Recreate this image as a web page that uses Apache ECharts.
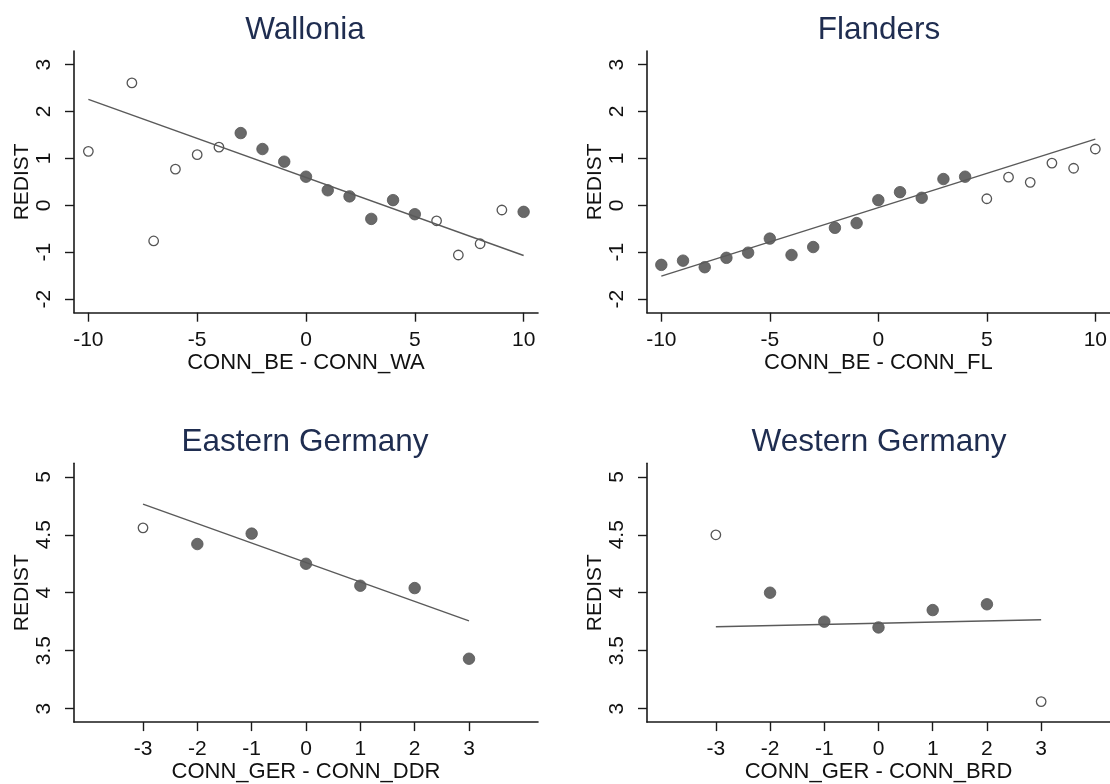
<!DOCTYPE html>
<html>
<head>
<meta charset="utf-8">
<script src="https://cdn.jsdelivr.net/npm/echarts@6/dist/echarts.min.js"></script>
<style>
html,body{margin:0;padding:0;background:#fff;}
#chart{width:1110px;height:784px;}
</style>
</head>
<body>
<div id="chart"></div>
<script>
// ---- Data ----
const titles = ['Wallonia', 'Flanders', 'Eastern Germany', 'Western Germany'];
const xNames = ['CONN_BE - CONN_WA', 'CONN_BE - CONN_FL', 'CONN_GER - CONN_DDR', 'CONN_GER - CONN_BRD'];
const yName = 'REDIST';

const waX = [-10, -8, -7, -6, -5, -4, -3, -2, -1, 0, 1, 2, 3, 4, 5, 6, 7, 8, 9, 10];
const waY = [1.15, 2.61, -0.76, 0.77, 1.08, 1.24, 1.54, 1.20, 0.93, 0.61, 0.32, 0.19, -0.29, 0.11, -0.19, -0.33, -1.06, -0.82, -0.10, -0.14];
const waHollow = [1, 1, 1, 1, 1, 1, 0, 0, 0, 0, 0, 0, 0, 0, 0, 1, 1, 1, 1, 0];
const waFit = [[-10, 2.26], [10, -1.07]];

const flX = [-10, -9, -8, -7, -6, -5, -4, -3, -2, -1, 0, 1, 2, 3, 4, 5, 6, 7, 8, 9, 10];
const flY = [-1.27, -1.18, -1.32, -1.12, -1.01, -0.71, -1.06, -0.89, -0.48, -0.38, 0.11, 0.28, 0.16, 0.56, 0.61, 0.14, 0.60, 0.49, 0.90, 0.79, 1.20];
const flHollow = [0, 0, 0, 0, 0, 0, 0, 0, 0, 0, 0, 0, 0, 0, 0, 1, 1, 1, 1, 1, 1];
const flFit = [[-10, -1.51], [10, 1.41]];

const eaX = [-3, -2, -1, 0, 1, 2, 3];
const eaY = [4.56, 4.42, 4.51, 4.25, 4.06, 4.04, 3.43];
const eaHollow = [1, 0, 0, 0, 0, 0, 0];
const eaFit = [[-3, 4.765], [3, 3.757]];

const weX = [-3, -2, -1, 0, 1, 2, 3];
const weY = [4.50, 4.00, 3.75, 3.70, 3.85, 3.90, 3.06];
const weHollow = [1, 0, 0, 0, 0, 0, 1];
const weFit = [[-3, 3.706], [3, 3.766]];

const beXTicks = [-10, -5, 0, 5, 10];
const beYTicks = [-2, -1, 0, 1, 2, 3];
const deXTicks = [-3, -2, -1, 0, 1, 2, 3];
const deYTicks = [3, 3.5, 4, 4.5, 5];

const beXRange = [-10.66, 10.66];
const beYRange = [-2.29, 3.29];
const deXRange = [-4.27, 4.27];
const deYRange = [2.883, 5.117];

// ---- Layout / style ----
const FONT = 'Liberation Sans, Arial, Helvetica, sans-serif';
const layouts = [
  {left: 74, top: 51, width: 464, height: 261.7, tx: 305, ty: 14},
  {left: 647, top: 51, width: 463, height: 261.7, tx: 879, ty: 14},
  {left: 74, top: 463.3, width: 464, height: 260.7, tx: 305, ty: 426},
  {left: 647, top: 463.3, width: 463, height: 260.7, tx: 879, ty: 426}
];
const panels = [
  {x: waX, y: waY, h: waHollow, fit: waFit, xr: beXRange, yr: beYRange, xt: beXTicks, yt: beYTicks},
  {x: flX, y: flY, h: flHollow, fit: flFit, xr: beXRange, yr: beYRange, xt: beXTicks, yt: beYTicks},
  {x: eaX, y: eaY, h: eaHollow, fit: eaFit, xr: deXRange, yr: deYRange, xt: deXTicks, yt: deYTicks},
  {x: weX, y: weY, h: weHollow, fit: weFit, xr: deXRange, yr: deYRange, xt: deXTicks, yt: deYTicks}
];

const axisLineStyle = {color: '#1a1a1a', width: 1.6};
const grid = [], xAxis = [], yAxis = [], series = [], title = [];

panels.forEach((p, i) => {
  const L = layouts[i];
  grid.push({left: L.left, top: L.top, width: L.width, height: L.height, containLabel: false});
  title.push({
    text: titles[i], left: L.tx, top: L.ty, textAlign: 'center', padding: 0,
    textStyle: {fontFamily: FONT, fontSize: 31.5, fontWeight: 'normal', color: '#1f2d50'}
  });
  xAxis.push({
    type: 'value', gridIndex: i, min: p.xr[0], max: p.xr[1],
    name: xNames[i], nameLocation: 'middle', nameGap: 38,
    nameTextStyle: {fontFamily: FONT, fontSize: 22, color: '#111'},
    axisLine: {show: true, onZero: false, lineStyle: axisLineStyle},
    axisTick: {show: true, length: 9, customValues: p.xt, lineStyle: {color: '#1a1a1a', width: 1.4}},
    axisLabel: {customValues: p.xt, margin: 17, fontFamily: FONT, fontSize: 21, color: '#111'},
    splitLine: {show: false}
  });
  yAxis.push({
    type: 'value', gridIndex: i, min: p.yr[0], max: p.yr[1],
    name: yName, nameLocation: 'middle', nameGap: 41, nameRotate: 90,
    nameTextStyle: {fontFamily: FONT, fontSize: 21, color: '#111'},
    axisLine: {show: true, onZero: false, lineStyle: axisLineStyle},
    axisTick: {show: true, length: 9, customValues: p.yt, lineStyle: {color: '#1a1a1a', width: 1.4}},
    axisLabel: {customValues: p.yt, rotate: 90, margin: 19, fontFamily: FONT, fontSize: 21, color: '#111'},
    splitLine: {show: false}
  });
  const filled = [], hollow = [];
  p.x.forEach((xv, k) => {
    (p.h[k] ? hollow : filled).push([xv, p.y[k]]);
  });
  series.push({
    type: 'scatter', xAxisIndex: i, yAxisIndex: i, data: filled, symbol: 'circle', symbolSize: 11.5,
    itemStyle: {color: '#696969', borderColor: '#555', borderWidth: 0.8, opacity: 1}, z: 2
  });
  series.push({
    type: 'scatter', xAxisIndex: i, yAxisIndex: i, data: hollow, symbol: 'circle', symbolSize: 9.5,
    itemStyle: {color: '#fff', borderColor: '#555', borderWidth: 1.3, opacity: 1}, z: 2
  });
  series.push({
    type: 'line', xAxisIndex: i, yAxisIndex: i, data: p.fit, symbol: 'none',
    lineStyle: {color: '#5a5a5a', width: 1.4}, z: 3, silent: true
  });
});

const chart = echarts.init(document.getElementById('chart'), null, {renderer: 'canvas'});
chart.setOption({
  animation: false,
  backgroundColor: '#fff',
  title, grid, xAxis, yAxis, series
});
</script>
</body>
</html>
